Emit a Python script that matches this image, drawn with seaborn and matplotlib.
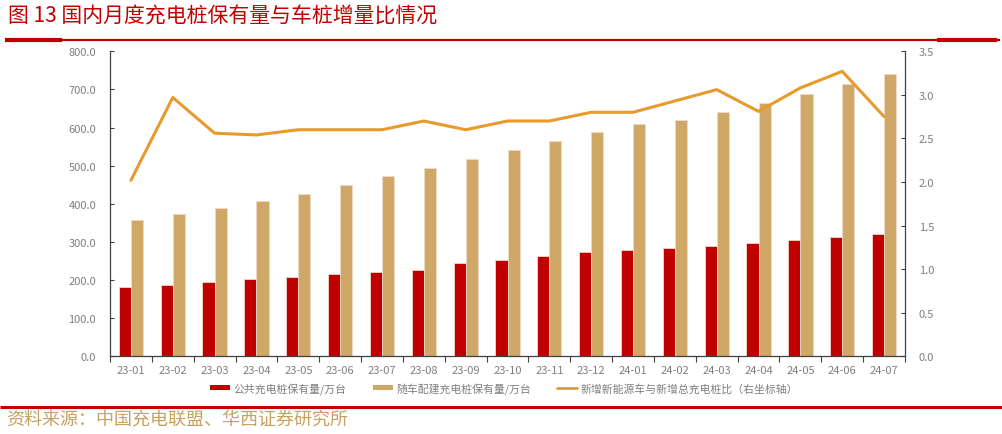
import matplotlib
matplotlib.use("Agg")
import matplotlib.pyplot as plt
import seaborn as sns
import pandas as pd
import numpy as np
from matplotlib.patches import Patch
from matplotlib.lines import Line2D
from matplotlib.ticker import FixedLocator, MultipleLocator, FormatStrFormatter

months = ["23-01", "23-02", "23-03", "23-04", "23-05", "23-06", "23-07", "23-08", "23-09", "23-10",
          "23-11", "23-12", "24-01", "24-02", "24-03", "24-04", "24-05", "24-06", "24-07"]
public_piles = [183, 187, 196, 203, 209, 215, 221, 227, 246, 252, 262, 273, 278, 283, 290, 298, 304, 312, 321]
private_piles = [357, 373, 388, 407, 427, 450, 472, 493, 518, 542, 564, 588, 608, 620, 641, 664, 688, 713, 740]
ratio = [2.02, 2.97, 2.56, 2.54, 2.60, 2.60, 2.60, 2.70, 2.60, 2.70, 2.70, 2.80, 2.80, 2.93, 3.06, 2.81, 3.08, 3.27, 2.75]

series_names = ["公共充电桩保有量/万台", "随车配建充电桩保有量/万台", "新增新能源车与新增总充电桩比（右坐标轴）"]
title = "图 13 国内月度充电桩保有量与车桩增量比情况"
source = "资料来源：中国充电联盟、华西证券研究所"

RED = "#C00000"
TAN = "#CFA766"
ORANGE = "#E89A2C"
GREY = "#7F7F7F"

sns.set_theme(style="white")
plt.rcParams["font.family"] = ["Noto Sans CJK SC", "DejaVu Sans"]

df = pd.DataFrame({
    "month": months * 2,
    "value": public_piles + private_piles,
    "series": [series_names[0]] * len(months) + [series_names[1]] * len(months),
})

fig = plt.figure(figsize=(10.02, 4.35), dpi=100)
ax = fig.add_axes([0.1098, 0.1786, 0.7934, 0.7012])

sns.barplot(data=df, x="month", y="value", hue="series", order=months,
            hue_order=series_names[:2], palette=[RED, TAN], width=0.58, saturation=1,
            edgecolor="#F0D8C8", linewidth=0.6, ax=ax, legend=False)

ax2 = ax.twinx()
sns.lineplot(x=np.arange(len(months)), y=ratio, color=ORANGE, linewidth=2.2, ax=ax2)

ax.set_xlim(-0.5, len(months) - 0.5)
ax.set_ylim(0, 800)
ax2.set_ylim(0, 3.5)
ax.set_xlabel("")
ax.set_ylabel("")

ax.yaxis.set_major_locator(MultipleLocator(100))
ax.yaxis.set_major_formatter(FormatStrFormatter("%.1f"))
ax2.yaxis.set_major_locator(MultipleLocator(0.5))
ax2.yaxis.set_major_formatter(FormatStrFormatter("%.1f"))

ax.xaxis.set_major_locator(FixedLocator(np.arange(-0.5, len(months), 1.0)))
ax.xaxis.set_minor_locator(FixedLocator(np.arange(len(months))))
ax.set_xticklabels([], minor=False)
ax.set_xticklabels(months, minor=True)
ax.tick_params(axis="x", which="major", direction="out", length=4, width=0.8, color="#404040", bottom=True)
ax.tick_params(axis="x", which="minor", length=0, labelsize=8, labelcolor=GREY, pad=6)
ax.tick_params(axis="y", direction="in", length=3, width=0.8, color="#404040", left=True,
               labelsize=8, labelcolor=GREY, pad=10)
ax2.tick_params(axis="y", direction="in", length=3, width=0.8, color="#404040", right=True,
                labelsize=8, labelcolor=GREY, pad=10)

for a in (ax, ax2):
    a.spines["top"].set_visible(False)
    a.grid(False)
ax.spines["right"].set_visible(False)
ax2.spines["left"].set_visible(False)
ax2.spines["bottom"].set_visible(False)
ax.spines["left"].set_color("#404040")
ax.spines["bottom"].set_color("#404040")
ax2.spines["right"].set_color("#404040")
for s in ("left", "bottom"):
    ax.spines[s].set_linewidth(0.9)
ax2.spines["right"].set_linewidth(0.9)

handles = [Patch(facecolor=RED, edgecolor="none"),
           Patch(facecolor=TAN, edgecolor="none"),
           Line2D([0], [0], color=ORANGE, linewidth=2)]
legend_x = [0.2096, 0.3723, 0.5559]
for h, name, lx in zip(handles, series_names, legend_x):
    leg = fig.legend([h], [name], loc="center left", bbox_to_anchor=(lx, 0.106),
                     frameon=False, fontsize=7.8, handlelength=1.85, handleheight=0.4,
                     handletextpad=0.3, borderpad=0, borderaxespad=0)
    for t in leg.get_texts():
        t.set_color(GREY)

fig.text(0.008, 0.963, title, color="#C00000", fontsize=15, ha="left", va="center")
for xs, lw in (([0.005, 0.998], 1.6), ([0.005, 0.062], 3.0), ([0.935, 0.995], 3.0)):
    fig.add_artist(Line2D(xs, [0.906, 0.906], color="#C00000", linewidth=lw,
                          solid_capstyle="butt", transform=fig.transFigure))
fig.add_artist(Line2D([0.0, 1.0], [0.062, 0.062], color="#C00000", linewidth=2.2,
                      solid_capstyle="butt", transform=fig.transFigure))
fig.text(0.006, 0.034, source, color="#C8A060", fontsize=13, ha="left", va="center")

fig.savefig("out.png", dpi=100)
